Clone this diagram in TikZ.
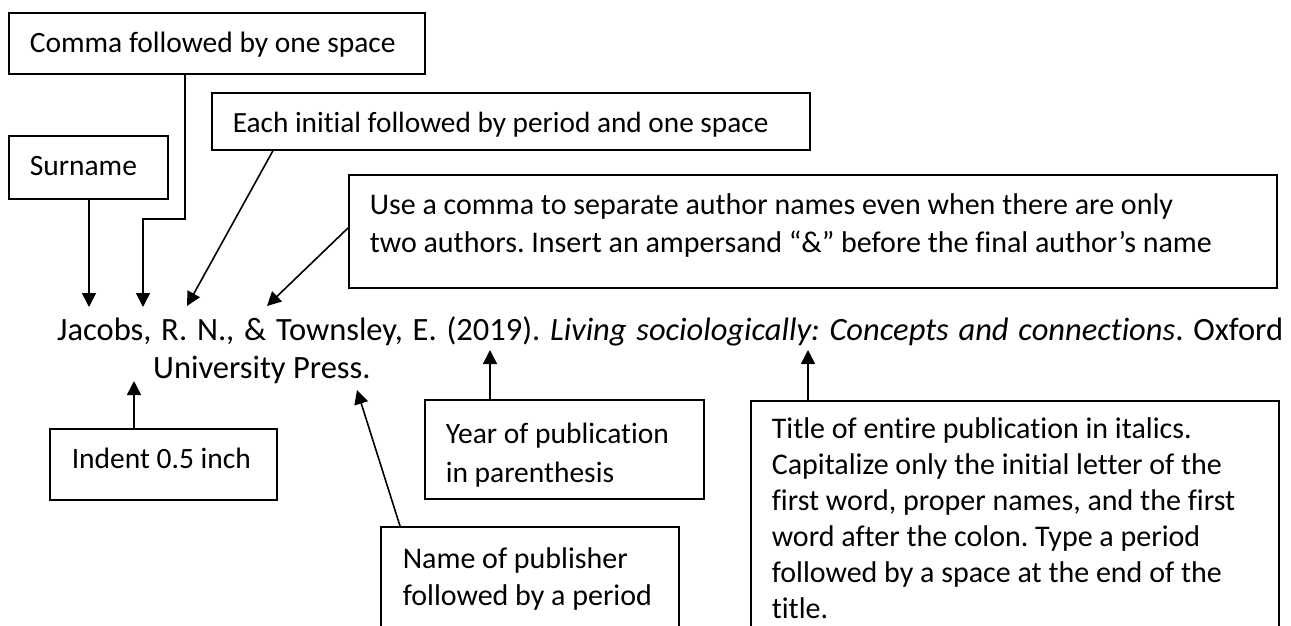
\documentclass[tikz,border=0pt]{standalone}
\usepackage{fontspec}
\setmainfont{Carlito}[Ligatures=NoCommon]
\usetikzlibrary{arrows.meta}
\frenchspacing
\newcommand{\bxc}[6]{\parbox[c][#2][t]{#1}{\raggedright\fontsize{#6}{#4}\selectfont\rule{0pt}{#3}#5}}
\begin{document}
\begin{tikzpicture}[x=1pt,y=-1pt,
  box/.style={draw, rectangle, line width=1.6pt, inner ysep=0pt, anchor=north west},
  arr/.style={line width=1.6pt, -{Triangle[length=14pt,width=14pt]}},
  reftext/.style={anchor=base west, inner sep=0pt, font=\fontsize{32.5}{38}\selectfont}]
\useasboundingbox (0,0) rectangle (1291,625);
\fill[white] (0,0) rectangle (1291,625);
\begin{scope}
\clip (0,0) rectangle (1291,625);
\node[box, inner xsep=21pt] (comma) at (8,12) {\bxc{374pt}{61pt}{39.5pt}{36pt}{Comma followed by one space}{29.5}};
\node[box, inner xsep=21pt] (surname) at (8,135) {\bxc{117pt}{63pt}{40pt}{36pt}{Surname}{29.5}};
\node[box, inner xsep=21pt] (each) at (211,92) {\bxc{556pt}{57pt}{40pt}{36pt}{Each initial followed by period and one space}{29.3}};
\node[box, inner xsep=21pt] (usecomma) at (348,174) {\bxc{886pt}{113pt}{39.5pt}{38pt}{Use a comma to separate author names even when there are only\\two authors. Insert an ampersand “\&” before the final author’s name}{30}};
\node[box, inner xsep=22pt] (indent) at (49,428) {\bxc{183pt}{71pt}{40pt}{36pt}{Indent 0.5 inch}{29.5}};
\node[box, inner xsep=21pt] (year) at (424,399) {\bxc{237pt}{99pt}{44pt}{38.5pt}{Year of publication\\in parenthesis}{29.5}};
\node[box, inner xsep=22pt] (publisher) at (380,526) {\bxc{254pt}{130pt}{42pt}{36.5pt}{Name of publisher\\followed by a period}{30}};
\node[box, inner xsep=21pt] (title) at (750,400) {\bxc{486pt}{260pt}{38pt}{36pt}{Title of entire publication in italics.\\Capitalize only the initial letter of the\\first word, proper names, and the first\\word after the colon. Type a period\\followed by a space at the end of the\\title.}{30}};
\end{scope}

\node[reftext] (line1) at (57,340) {\hbox to 1226pt{Jacobs, R. N., \& Townsley, E. (2019). \textit{Living sociologically: Concepts and connections}. Oxford}};
\node[reftext] (line2) at (153,378) {University Press.};

\coordinate (tSur) at (89,307);
\coordinate (cBend) at (185,219);
\coordinate (tCom) at (143,307);
\coordinate (tEach) at (187,306);
\coordinate (tUse) at (267,306);
\coordinate (tInd) at (134,381);
\coordinate (tYear) at (490,350);
\coordinate (tPub) at (357,390);
\coordinate (tTitle) at (808,350);

\draw[arr] (surname.south -| tSur) -- (tSur);
\draw[arr] (comma.south -| cBend) -- (cBend) -| (tCom);
\draw[arr] ([xshift=62pt]each.south west) -- (tEach);
\draw[arr] ([yshift=-54pt]usecomma.north west) -- (tUse);
\draw[arr] (indent.north -| tInd) -- (tInd);
\draw[arr] (year.north -| tYear) -- (tYear);
\draw[arr] ([xshift=20pt]publisher.north west) -- (tPub);
\draw[arr] (title.north -| tTitle) -- (tTitle);
\end{tikzpicture}
\end{document}
